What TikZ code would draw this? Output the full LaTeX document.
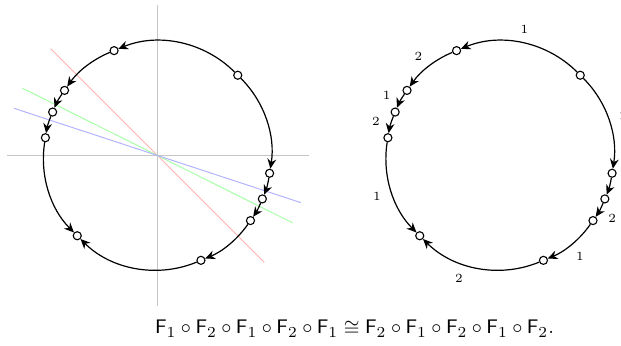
\documentclass[tikz,border=0pt]{standalone}
\usepackage{amsmath,amssymb}
\usepackage{tikz}
\usetikzlibrary{
  arrows.meta,
  calc
}

\tikzset{
  dot/.style={circle,draw,fill=white,inner sep=0pt,minimum size=3.7pt,line width=0.5pt},
  flow/.style={-{Stealth[length=4.5pt,width=4pt]},line width=0.55pt},
  axis/.style={gray!45,line width=0.7pt},
  mirror/.style={line width=0.45pt},
  lab/.style={font=\fontsize{5.7}{6}\selectfont}
}

\begin{document}
\begin{tikzpicture}[x=0.0161cm, y=0.0161cm]
\useasboundingbox (0,0) rectangle (621,346);

% Centres of the two circles
\coordinate (cL) at (157.5,190.5);
\coordinate (cR) at (500,190.5);

% Axes
\draw[axis] ($(cL)+(-150.5,0)$) -- ($(cL)+(151.5,0)$);
\draw[axis] ($(cL)+(0,150.5)$)  -- ($(cL)+(0,-150.5)$);

% Mirror lines
\draw[mirror,red!30]   ($(cL)+(135:151)$)   -- ($(cL)+(-45:151)$);
\draw[mirror,green!35] ($(cL)+(153.5:151)$) -- ($(cL)+(-26.5:151)$);
\draw[mirror,blue!30]  ($(cL)+(161.8:151)$) -- ($(cL)+(-18.2:151)$);

% Points on both circles
\foreach \c in {L,R}{
  \foreach \n/\a in {s/45,a/112.5,b/145,c/157.5,d/171,
                     p/-9,q/-22.5,r/-35,u/-67.5,t/225}
    \node[dot] (\c\n) at ($(c\c)+(\a:113.5)$) {};

  % F1 o F2 o F1 o F2 o F1
  \draw[flow] (\c s) to[bend right=33.75,looseness=.93] (\c a);
  \draw[flow] (\c a) to[bend right=16.25,looseness=.87] (\c b);
  \draw[flow] (\c b) to[bend right=6.25,looseness=.85]  (\c c);
  \draw[flow] (\c c) to[bend right=6.75,looseness=.85]  (\c d);
  \draw[flow] (\c d) to[bend right=27,looseness=.9]     (\c t);

  % F2 o F1 o F2 o F1 o F2
  \draw[flow] (\c s) to[bend left=27,looseness=.9]      (\c p);
  \draw[flow] (\c p) to[bend left=6.75,looseness=.85]   (\c q);
  \draw[flow] (\c q) to[bend left=6.25,looseness=.85]   (\c r);
  \draw[flow] (\c r) to[bend left=16.25,looseness=.87]  (\c u);
  \draw[flow] (\c u) to[bend left=33.75,looseness=.93]  (\c t);
}

% Labels on the right circle
\foreach \m/\a/\r/\k in {m1/79/128/1,m2/129.4/128.5/2,m3/151.9/128.5/1,
                         m4/164.8/128.5/2,m5/198.2/129.5/1,
                         n1/18/130/2,n2/-16.5/129/1,n3/-29.2/128.5/2,
                         n4/-51.7/129/1,n5/251.5/129.5/2}
  \node[lab] (\m) at ($(cR)+(\a:\r)$) {\k};

% Caption
\node[anchor=base,font=\fontsize{9.4}{11}\selectfont] (rel) at (354.5,12)
  {$\mathsf{F}_1\circ\mathsf{F}_2\circ\mathsf{F}_1\circ\mathsf{F}_2\circ\mathsf{F}_1
    \cong\mathsf{F}_2\circ\mathsf{F}_1\circ\mathsf{F}_2\circ\mathsf{F}_1\circ\mathsf{F}_2.$};

\end{tikzpicture}
\end{document}
